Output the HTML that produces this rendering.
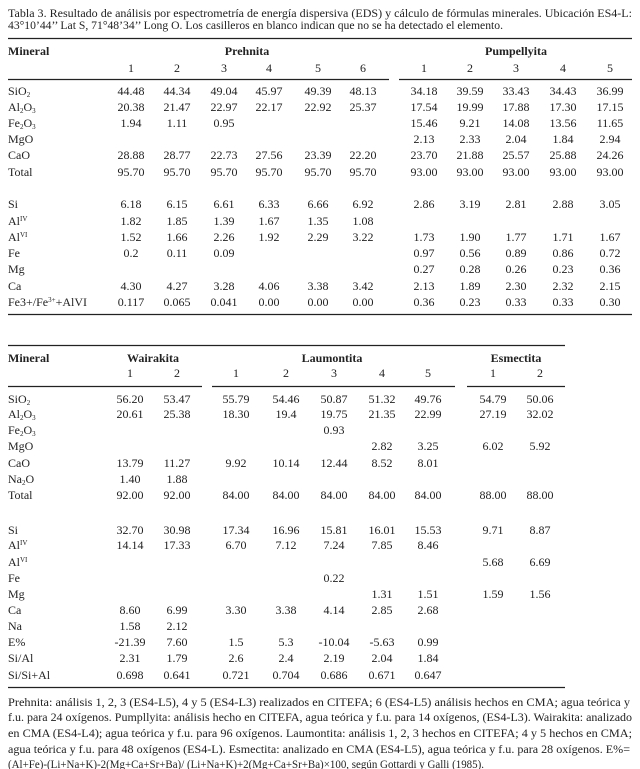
<!DOCTYPE html>
<html><head><meta charset="utf-8"><style>
html,body{margin:0;padding:0;background:#fff;}
svg{display:block;font-family:"Liberation Serif",serif;font-size:12px;fill:#222;}
.b{font-weight:bold;}
</style></head><body>
<svg id="s" width="640" height="769" viewBox="0 0 640 769" xmlns="http://www.w3.org/2000/svg">
<text x="8" y="17" textLength="624" lengthAdjust="spacingAndGlyphs">Tabla 3. Resultado de análisis por espectrometría de energía dispersiva (EDS) y cálculo de fórmulas minerales. Ubicación ES4-L:</text>
<text x="8" y="29" textLength="495" lengthAdjust="spacingAndGlyphs">43°10’44’’ Lat S, 71°48’34’’ Long O. Los casilleros en blanco indican que no se ha detectado el elemento.</text>
<g stroke="#222" stroke-width="1.2">
<line x1="8" y1="38.5" x2="632" y2="38.5"/>
<line x1="8" y1="79.5" x2="389" y2="79.5"/>
<line x1="399" y1="79.5" x2="632" y2="79.5"/>
<line x1="8" y1="314.5" x2="632" y2="314.5"/>
<line x1="8" y1="345.5" x2="565" y2="345.5"/>
<line x1="8" y1="386.5" x2="202" y2="386.5"/>
<line x1="212" y1="386.5" x2="455" y2="386.5"/>
<line x1="467" y1="386.5" x2="565" y2="386.5"/>
<line x1="8" y1="687.5" x2="565" y2="687.5"/>
</g>
<text class="b" x="8" y="55">Mineral</text>
<text class="b" x="247" y="55" text-anchor="middle">Prehnita</text>
<text class="b" x="516" y="55" text-anchor="middle">Pumpellyita</text>
<text class="b" x="8" y="362">Mineral</text>
<text class="b" x="153" y="362" text-anchor="middle">Wairakita</text>
<text class="b" x="332" y="362" text-anchor="middle">Laumontita</text>
<text class="b" x="516" y="362" text-anchor="middle">Esmectita</text>
<text x="8" y="706" textLength="622" lengthAdjust="spacingAndGlyphs">Prehnita: análisis 1, 2, 3 (ES4-L5), 4 y 5 (ES4-L3) realizados en CITEFA; 6 (ES4-L5) análisis hechos en CMA; agua teórica y</text>
<text x="8" y="721" textLength="624" lengthAdjust="spacingAndGlyphs">f.u. para 24 oxígenos. Pumpllyita: análisis hecho en CITEFA, agua teórica y f.u. para 14 oxígenos, (ES4-L3). Wairakita: analizado</text>
<text x="8" y="737" textLength="624" lengthAdjust="spacingAndGlyphs">en CMA (ES4-L4); agua teórica y f.u. para 96 oxígenos. Laumontita: análisis 1, 2, 3 hechos en CITEFA; 4 y 5 hechos en CMA;</text>
<text x="8" y="753" textLength="622" lengthAdjust="spacingAndGlyphs">agua teórica y f.u. para 48 oxígenos (ES4-L). Esmectita: analizado en CMA (ES4-L5), agua teórica y f.u. para 28 oxígenos. E%=</text>
<text x="8" y="768" textLength="476" lengthAdjust="spacingAndGlyphs">(Al+Fe)-(Li+Na+K)-2(Mg+Ca+Sr+Ba)/ (Li+Na+K)+2(Mg+Ca+Sr+Ba)×100, según Gottardi y Galli (1985).</text>
</svg>
<script>
const cols1 = [131,177,224,269,318,363,424,470,516,563,610];
const rowY1 = [91,107,123,139,155,172,204,221,237,253,269,286,302];
const labels1 = ["SiO_{2}","Al_{2}O_{3}","Fe_{2}O_{3}","MgO","CaO","Total","Si","Al^{IV}","Al^{VI}","Fe","Mg","Ca","Fe3+/Fe^{3+}+AlVI"];
const vals1 = [
["44.48","44.34","49.04","45.97","49.39","48.13","34.18","39.59","33.43","34.43","36.99"],
["20.38","21.47","22.97","22.17","22.92","25.37","17.54","19.99","17.88","17.30","17.15"],
["1.94","1.11","0.95","","","","15.46","9.21","14.08","13.56","11.65"],
["","","","","","","2.13","2.33","2.04","1.84","2.94"],
["28.88","28.77","22.73","27.56","23.39","22.20","23.70","21.88","25.57","25.88","24.26"],
["95.70","95.70","95.70","95.70","95.70","95.70","93.00","93.00","93.00","93.00","93.00"],
["6.18","6.15","6.61","6.33","6.66","6.92","2.86","3.19","2.81","2.88","3.05"],
["1.82","1.85","1.39","1.67","1.35","1.08","","","","",""],
["1.52","1.66","2.26","1.92","2.29","3.22","1.73","1.90","1.77","1.71","1.67"],
["0.2","0.11","0.09","","","","0.97","0.56","0.89","0.86","0.72"],
["","","","","","","0.27","0.28","0.26","0.23","0.36"],
["4.30","4.27","3.28","4.06","3.38","3.42","2.13","1.89","2.30","2.32","2.15"],
["0.117","0.065","0.041","0.00","0.00","0.00","0.36","0.23","0.33","0.33","0.30"]];
const heads1 = ["1","2","3","4","5","6","1","2","3","4","5"];

const cols2 = [130,177,236,286,334,382,428,493,540];
const rowY2 = [399,414,430,446,463,479,495,530,545,562,578,594,610,626,642,658,675];
const labels2 = ["SiO_{2}","Al_{2}O_{3}","Fe_{2}O_{3}","MgO","CaO","Na_{2}O","Total","Si","Al^{IV}","Al^{VI}","Fe","Mg","Ca","Na","E%","Si/Al","Si/Si+Al"];
const vals2 = [
["56.20","53.47","55.79","54.46","50.87","51.32","49.76","54.79","50.06"],
["20.61","25.38","18.30","19.4","19.75","21.35","22.99","27.19","32.02"],
["","","","","0.93","","","",""],
["","","","","","2.82","3.25","6.02","5.92"],
["13.79","11.27","9.92","10.14","12.44","8.52","8.01","",""],
["1.40","1.88","","","","","","",""],
["92.00","92.00","84.00","84.00","84.00","84.00","84.00","88.00","88.00"],
["32.70","30.98","17.34","16.96","15.81","16.01","15.53","9.71","8.87"],
["14.14","17.33","6.70","7.12","7.24","7.85","8.46","",""],
["","","","","","","","5.68","6.69"],
["","","","","0.22","","","",""],
["","","","","","1.31","1.51","1.59","1.56"],
["8.60","6.99","3.30","3.38","4.14","2.85","2.68","",""],
["1.58","2.12","","","","","","",""],
["-21.39","7.60","1.5","5.3","-10.04","-5.63","0.99","",""],
["2.31","1.79","2.6","2.4","2.19","2.04","1.84","",""],
["0.698","0.641","0.721","0.704","0.686","0.671","0.647","",""]];
const heads2 = ["1","2","1","2","3","4","5","1","2"];

const NS="http://www.w3.org/2000/svg";
const svg=document.getElementById('s');
function mk(x,y,anchor){const t=document.createElementNS(NS,'text');t.setAttribute('x',x);t.setAttribute('y',y);if(anchor)t.setAttribute('text-anchor',anchor);svg.appendChild(t);return t;}
function label(t,s){
  const parts=s.split(/([_^]\{[^}]*\})/);
  parts.forEach(p=>{if(!p)return;const sp=document.createElementNS(NS,'tspan');
    if(p[0]==='_'||p[0]==='^'){sp.textContent=p.slice(2,-1);sp.setAttribute('font-size','7');sp.setAttribute('dy',p[0]==='_'?'2':'-4');t.appendChild(sp);
      const r=document.createElementNS(NS,'tspan');r.setAttribute('dy',p[0]==='_'?'-2':'4');r.textContent='\u200b';t.appendChild(r);}
    else{sp.textContent=p;t.appendChild(sp);}});
}
function table(prefix,cols,rowY,labels,vals,heads,headY){
  heads.forEach((h,i)=>{const t=mk(cols[i],headY,'middle');t.textContent=h;
    
    });
  labels.forEach((l,r)=>{const t=mk(8,rowY[r]+4);label(t,l);
    
    
    vals[r].forEach((v,c)=>{if(!v)return;const c1=mk(cols[c],rowY[r]+4,'middle');c1.textContent=v;
      
      });});
}
table('table1',cols1,rowY1,labels1,vals1,heads1,72);
table('table2',cols2,rowY2,labels2,vals2,heads2,377);
</script>
</body></html>
